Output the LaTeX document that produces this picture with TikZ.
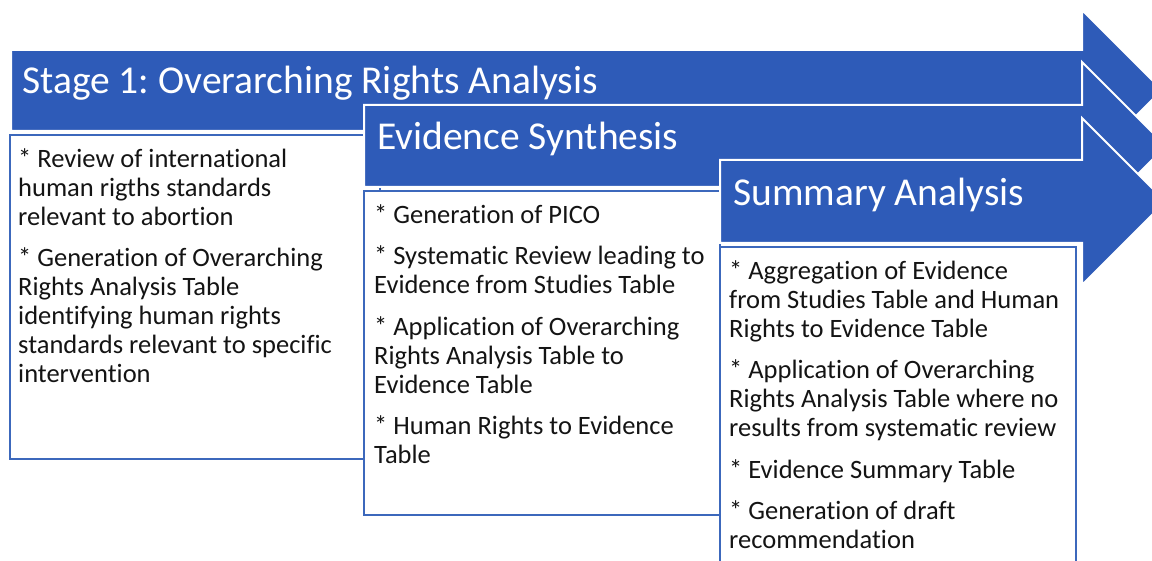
\documentclass[tikz,border=0pt]{standalone}
\usepackage{fontspec}
\setmainfont{Carlito}[Ligatures=NoCommon]
\frenchspacing
\definecolor{arrowblue}{RGB}{46,91,184}
\definecolor{boxblue}{RGB}{60,104,188}
\definecolor{textgray}{RGB}{20,20,20}
\tikzset{
  arrowshape/.style={fill=arrowblue, draw=white, line width=2pt, line join=miter},
  boxshape/.style={fill=white, draw=boxblue, line width=2.2pt},
  titletext/.style={text=white, font=\fontsize{39.5}{44}\selectfont, inner sep=0pt, anchor=west},
  bodytext/.style={text=textgray, font=\fontsize{26.5}{29}\selectfont, inner sep=0pt, anchor=north west, align=left}
}
\begin{document}
\begin{tikzpicture}[x=1pt,y=-1pt]
\useasboundingbox (0,0) rectangle (1152,561);
\begin{scope}
\clip (0,0) rectangle (1152,561);
% Stage 1
\draw[arrowshape] (11,50) -- (1082,50) -- (1082,10) -- (1162,90) -- (1082,170) -- (1082,131) -- (11,131) -- cycle;
\node[titletext] (t1) at (22,83) {Stage 1: Overarching Rights Analysis};
\draw[boxshape] (10,135) rectangle (380,459);
\node[bodytext] (b1) at (18,148) {* Review of international\\ human rigths standards\\ relevant to abortion\\[12.5pt] * Generation of Overarching\\ Rights Analysis Table\\ identifying human rights\\ standards relevant to specific\\ intervention};
% Stage 2
\draw[arrowshape] (364,105) -- (1082,105) -- (1082,62) -- (1166,146) -- (1082,230) -- (1082,187) -- (364,187) -- cycle;
\node[titletext] (t2) at (377,139) {Evidence Synthesis};
\draw[boxshape] (364,191) rectangle (720,515);
\node[bodytext] (b2) at (374,204) {* Generation of PICO\\[12.5pt] * Systematic Review leading to\\ Evidence from Studies Table\\[12.5pt] * Application of Overarching\\ Rights Analysis Table to\\ Evidence Table\\[12.5pt] * Human Rights to Evidence\\ Table};
% Stage 3
\draw[arrowshape] (720,160) -- (1082,160) -- (1082,118) -- (1165.5,201.5) -- (1082,285) -- (1082,243) -- (720,243) -- cycle;
\node[titletext] (t3) at (733,195) {Summary Analysis};
\draw[boxshape] (720,247) rectangle (1076,580);
\node[bodytext] (b3) at (729,260) {* Aggregation of Evidence\\ from Studies Table and Human\\ Rights to Evidence Table\\[12.5pt] * Application of Overarching\\ Rights Analysis Table where no\\ results from systematic review\\[12.5pt] * Evidence Summary Table\\[12.5pt] * Generation of draft\\ recommendation};
\end{scope}
\end{tikzpicture}
\end{document}
